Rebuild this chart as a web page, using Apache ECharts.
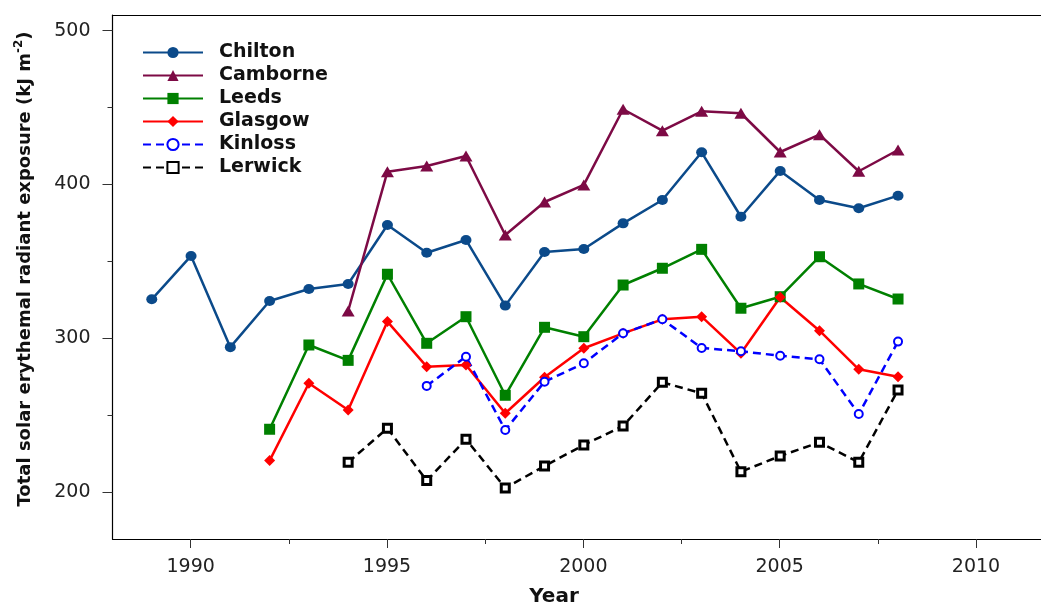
<!DOCTYPE html>
<html>
<head>
<meta charset="utf-8">
<script src="https://cdn.jsdelivr.net/npm/echarts@6/dist/echarts.min.js"></script>
<style>
  html, body { margin: 0; padding: 0; background: #ffffff; }
  #chart { width: 1041px; height: 606px; }
</style>
</head>
<body>
<div id="chart"></div>
<script>
// Annual total erythemal radiant exposure (kJ m-2) per UK site
const siteNames = ['Chilton', 'Camborne', 'Leeds', 'Glasgow', 'Kinloss', 'Lerwick'];

const chiltonStart = 1989;
const chiltonValues = [325.3, 353.5, 294.2, 324.2, 332.0, 335.3, 373.6, 355.6, 363.9, 321.2,
                       356.1, 358.0, 374.7, 389.9, 420.9, 379.0, 408.8, 389.9, 384.5, 392.7];

const camborneStart = 1994;
const camborneValues = [317.7, 408.3, 412.0, 418.5, 367.1, 388.6, 399.7, 448.9, 435.0, 447.6,
                        446.3, 421.1, 432.4, 408.6, 422.4];

const leedsStart = 1992;
const leedsValues = [240.8, 295.6, 285.6, 341.6, 296.7, 314.0, 262.9, 307.1, 301.0, 334.6,
                     345.5, 357.8, 319.5, 327.0, 353.0, 335.3, 325.5];

const glasgowStart = 1992;
const glasgowValues = [220.4, 270.7, 253.3, 310.8, 281.5, 282.6, 251.2, 274.6, 293.5, 303.2,
                       312.3, 314.0, 290.2, 326.6, 304.9, 279.8, 275.0];

const kinlossStart = 1996;
const kinlossValues = [269.0, 288.0, 240.3, 271.7, 283.7, 303.2, 312.3, 293.7, 291.5, 288.6,
                       286.3, 250.7, 297.8];

const lerwickStart = 1994;
const lerwickValues = [219.3, 241.4, 207.4, 234.3, 202.6, 216.9, 230.6, 242.9, 271.3, 264.2,
                       213.2, 223.4, 232.3, 219.3, 266.3];

// Tick values shown on the axes
const yearTicks = [1990, 1995, 2000, 2005, 2010];
const valueTicks = [200, 300, 400, 500];

const toPairs = (start, values) => values.map((v, i) => [start + i, v]);

const FONT = 'DejaVu Sans';

function lineSeries(name, start, values, color, symbol, size, extra) {
  return Object.assign({
    name: name,
    type: 'line',
    xAxisIndex: 0,
    yAxisIndex: 0,
    data: toPairs(start, values),
    color: color,
    symbol: symbol,
    symbolSize: size,
    showSymbol: true,
    lineStyle: { color: color, width: 2.5 },
    itemStyle: { color: color },
    emphasis: { disabled: true },
    animation: false,
    clip: false
  }, extra || {});
}

const chart = echarts.init(document.getElementById('chart'), null, { renderer: 'canvas' });

chart.setOption({
  backgroundColor: '#ffffff',
  animation: false,
  grid: [
    // plotting frame
    { left: 112.5, right: 0, top: 15, bottom: 67, containLabel: false },
    // tick/label frame spanning 1990-2010 and 200-500
    { left: 190.7, right: 65, top: 30.7, bottom: 114, containLabel: false }
  ],
  xAxis: [
    {
      type: 'value', gridIndex: 0, position: 'bottom',
      min: 1988, max: 2011.64,
      axisLine: { show: true, lineStyle: { color: '#000', width: 1.2 } },
      axisTick: { show: false }, axisLabel: { show: false }, splitLine: { show: false }
    },
    {
      type: 'value', gridIndex: 0, position: 'top',
      min: 1988, max: 2011.64,
      axisLine: { show: true, lineStyle: { color: '#000', width: 1.2 } },
      axisTick: { show: false }, axisLabel: { show: false }, splitLine: { show: false }
    },
    {
      type: 'value', gridIndex: 1, position: 'bottom', offset: 47,
      min: yearTicks[0], max: yearTicks[yearTicks.length - 1], interval: 5,
      axisLine: { show: false },
      axisTick: { show: true, length: 9, lineStyle: { color: '#333', width: 1 } },
      minorTick: { show: true, splitNumber: 2, length: 5, lineStyle: { color: '#333', width: 1 } },
      axisLabel: { show: true, margin: 19, fontFamily: FONT, fontSize: 19, color: '#222',
                   formatter: v => String(v) },
      splitLine: { show: false }
    }
  ],
  yAxis: [
    {
      type: 'value', gridIndex: 0, position: 'left',
      min: 169.43, max: 510.2,
      axisLine: { show: true, lineStyle: { color: '#000', width: 1.2 } },
      axisTick: { show: false }, axisLabel: { show: false }, splitLine: { show: false }
    },
    {
      type: 'value', gridIndex: 1, position: 'left', offset: 78.2,
      min: valueTicks[0], max: valueTicks[valueTicks.length - 1], interval: 100,
      axisLine: { show: false },
      axisTick: { show: true, length: 10, lineStyle: { color: '#333', width: 1 } },
      minorTick: { show: true, splitNumber: 2, length: 5, lineStyle: { color: '#333', width: 1 } },
      axisLabel: { show: true, margin: 22, fontFamily: FONT, fontSize: 19, color: '#222' },
      splitLine: { show: false }
    }
  ],
  legend: {
    orient: 'vertical',
    left: 137, top: 38,
    itemWidth: 60, itemHeight: 14, itemGap: 4,
    data: siteNames,
    textStyle: { fontFamily: FONT, fontSize: 19, fontWeight: 'bold', color: '#111',
                 padding: [0, 0, 0, 11] },
    selectedMode: false
  },
  series: [
    lineSeries(siteNames[0], chiltonStart, chiltonValues, '#0b4a8a', 'circle', [11, 10]),
    lineSeries(siteNames[1], camborneStart, camborneValues, '#7d0a45', 'triangle', [13, 11]),
    lineSeries(siteNames[2], leedsStart, leedsValues, '#008000', 'rect', 11),
    lineSeries(siteNames[3], glasgowStart, glasgowValues, '#ff0000', 'diamond', 11),
    lineSeries(siteNames[4], kinlossStart, kinlossValues, '#0000ff', 'circle', 8, {
      lineStyle: { color: '#0000ff', width: 2.5, type: [8, 5] },
      itemStyle: { color: '#ffffff', borderColor: '#0000ff', borderWidth: 2 }
    }),
    lineSeries(siteNames[5], lerwickStart, lerwickValues, '#000000', 'rect', 8, {
      lineStyle: { color: '#000000', width: 2.5, type: [8, 5] },
      itemStyle: { color: '#ffffff', borderColor: '#000000', borderWidth: 3 }
    })
  ],
  graphic: [
    {
      type: 'text', x: 554, y: 597,
      style: { text: 'Year', fontFamily: FONT, fontSize: 20, fontWeight: 'bold',
               fill: '#111', align: 'center', verticalAlign: 'middle' }
    },
    {
      type: 'text', x: 25, y: 269, rotation: Math.PI / 2,
      style: {
        text: '{a|Total solar erythemal radiant exposure (kJ m}{s|-2}{a|)}',
        align: 'center', verticalAlign: 'middle',
        rich: {
          a: { fontFamily: FONT, fontSize: 18, fontWeight: 'bold', fill: '#111', lineHeight: 24 },
          s: { fontFamily: FONT, fontSize: 12, fontWeight: 'bold', fill: '#111', lineHeight: 24,
               verticalAlign: 'top' }
        }
      }
    }
  ]
});
</script>
</body>
</html>
